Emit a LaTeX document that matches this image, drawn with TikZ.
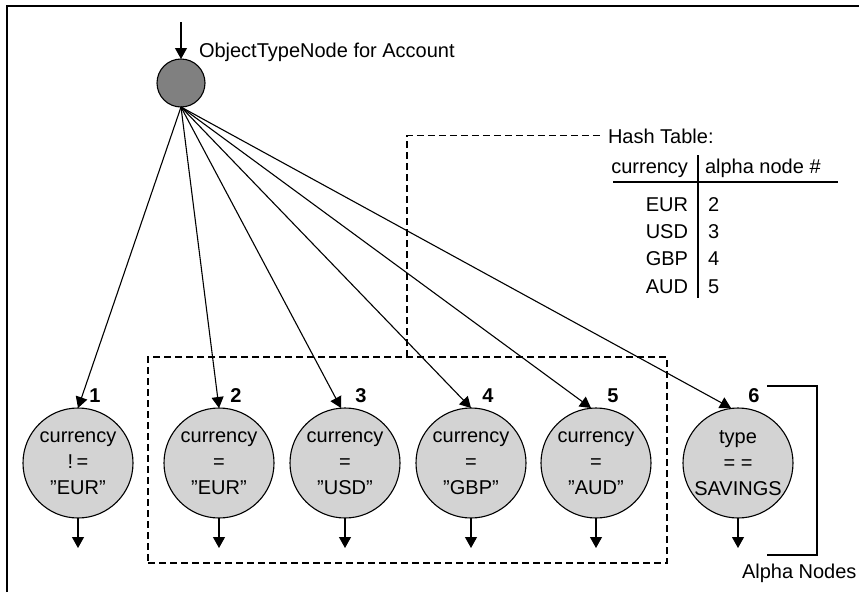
\documentclass[tikz,border=0pt]{standalone}
\usepackage{fontspec}
\setmainfont{Liberation Sans}
\usetikzlibrary{arrows.meta}
\definecolor{nodegray}{RGB}{211,211,211}
\definecolor{topgray}{RGB}{128,128,128}
\newcommand\sq{\symbol{34}}
\begin{document}
\begin{tikzpicture}[x=1pt,y=-1pt,
  every node/.style={font=\fontsize{20}{26}\selectfont, inner sep=0pt, outer sep=0pt},
  alphanode/.style={circle, draw, line width=1.1pt, fill=nodegray, minimum size=110pt, align=center},
  numlbl/.style={font=\fontsize{20}{22}\selectfont\bfseries},
  conn/.style={line width=1.1pt, -{Triangle[width=12pt,length=11pt]}},
  dsh/.style={line width=1.1pt, dash pattern=on 7pt off 4pt},
  lbl/.style={anchor=base west},
  rlbl/.style={anchor=base east}]
\useasboundingbox (0,0) rectangle (859,592);
% frame
\draw[line width=2pt] (7,592) -- (7,6) -- (859,6);

% top node
\node[circle, draw, line width=1.1pt, fill=topgray, minimum size=48pt] (top) at (181,83) {};
\coordinate (in) at (181,22);
\draw[conn] (in) -- (top.north);
\node[lbl] (otn) at (199,57) {ObjectTypeNode for Account};

% dashed group and hash table
\node[draw, dsh, minimum width=519pt, minimum height=206pt] (grp) at (407.5,460) {};
\node[lbl] (ht) at (608,143) {Hash Table:};
\coordinate (gc) at (407,357);
\draw[dsh] (gc) |- ([xshift=-5pt]ht.west);

\node[rlbl] (hcur) at (688,173) {currency};
\node[lbl] (halpha) at (705,173) {alpha node \#};
\node[rlbl] (k1) at (688,211) {EUR};
\node[rlbl] (k2) at (688,238) {USD};
\node[rlbl] (k3) at (688,265) {GBP};
\node[rlbl] (k4) at (688,293) {AUD};
\node[lbl] (v1) at (708,211) {2};
\node[lbl] (v2) at (708,238) {3};
\node[lbl] (v3) at (708,265) {4};
\node[lbl] (v4) at (708,293) {5};
\draw[line width=1.1pt] (698,155) -- (698,298);
\draw[line width=1.1pt] (613,182) -- (838,182);

% alpha nodes
\node[alphanode] (a1) at (78,463) {currency\\!\,=\\\sq EUR\sq};
\node[alphanode] (a2) at (219,463) {currency\\=\\\sq EUR\sq};
\node[alphanode] (a3) at (345,463) {currency\\=\\\sq USD\sq};
\node[alphanode] (a4) at (471,463) {currency\\=\\\sq GBP\sq};
\node[alphanode] (a5) at (596,463) {currency\\=\\\sq AUD\sq};
\node[alphanode] (a6) at (738,463) {type\\= =\\SAVINGS};

\node[numlbl] (n1) at (95,396) {1};
\node[numlbl] (n2) at (236,396) {2};
\node[numlbl] (n3) at (361,396) {3};
\node[numlbl] (n4) at (488,396) {4};
\node[numlbl] (n5) at (613,396) {5};
\node[numlbl] (n6) at (754,396) {6};

% edges from top node
\draw[conn] (top.south) -- (a1.north);
\draw[conn] (top.south) -- (a2.north);
\draw[conn] (top.south) -- ([xshift=-4pt]a3.north);
\draw[conn] (top.south) -- (a4.north);
\draw[conn] (top.south) -- ([xshift=-5pt]a5.north);
\draw[conn] (top.south) -- ([xshift=-7pt]a6.north);

% outputs
\coordinate (o1) at (78,548);
\coordinate (o2) at (219,548);
\coordinate (o3) at (345,548);
\coordinate (o4) at (471,548);
\coordinate (o5) at (596,548);
\coordinate (o6) at (738,548);
\draw[conn] (a1.south) -- (o1);
\draw[conn] (a2.south) -- (o2);
\draw[conn] (a3.south) -- (o3);
\draw[conn] (a4.south) -- (o4);
\draw[conn] (a5.south) -- (o5);
\draw[conn] (a6.south) -- (o6);

% bracket
\draw[line width=1.2pt] (767,386) -- (817,386) -- (817,555) -- (767,555);
\node[lbl] (an) at (742,578) {Alpha Nodes};
\end{tikzpicture}
\end{document}
